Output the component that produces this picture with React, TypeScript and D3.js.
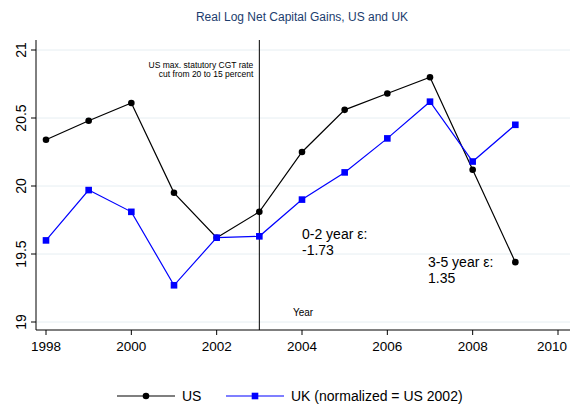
import React from 'react';
import * as d3 from 'd3';

const years = [1998, 1999, 2000, 2001, 2002, 2003, 2004, 2005, 2006, 2007, 2008, 2009];
const usValues = [20.34, 20.48, 20.61, 19.95, 19.62, 19.81, 20.25, 20.56, 20.68, 20.80, 20.12, 19.44];
const ukValues = [19.60, 19.97, 19.81, 19.27, 19.62, 19.63, 19.90, 20.10, 20.35, 20.62, 20.18, 20.45];
const xTicks = [1998, 2000, 2002, 2004, 2006, 2008, 2010];
const yTicks = [19, 19.5, 20, 20.5, 21];

const App: React.FC = () => {
  const width = 574;
  const height = 406;
  const left = 36, right = 570, top = 40, bottom = 330;

  const x = d3.scaleLinear().domain([1998, 2010]).range([46, 558]);
  const y = d3.scaleLinear().domain([19, 21]).range([322, 50]);

  const line = d3.line<number>().x((_, i) => x(years[i])).y(d => y(d));
  const font = 'Liberation Sans, Arial, sans-serif';

  return (
    <svg width={width} height={height} style={{ position: 'absolute', left: 0, top: 0, background: '#fff' }} fontFamily={font}>
      <text x={width / 2 + 15} y={21} textAnchor="middle" fontSize={12} fill="#1c3d6e">Real Log Net Capital Gains, US and UK</text>
      {yTicks.map(t => (
        <g key={t}>
          <line x1={left} x2={right} y1={y(t)} y2={y(t)} stroke="#e6eef2" />
          <line x1={left - 5} x2={left} y1={y(t)} y2={y(t)} stroke="#000" />
          <text transform={`translate(${left - 10},${y(t)}) rotate(-90)`} textAnchor="middle" fontSize={14}>{t}</text>
        </g>
      ))}
      <line x1={left} x2={left} y1={top} y2={bottom} stroke="#000" />
      <line x1={left} x2={right} y1={bottom} y2={bottom} stroke="#000" />
      {xTicks.map(t => (
        <g key={t}>
          <line x1={x(t)} x2={x(t)} y1={bottom} y2={bottom + 5} stroke="#000" />
          <text x={Math.min(x(t), 552)} y={bottom + 21} textAnchor="middle" fontSize={13.5}>{t}</text>
        </g>
      ))}
      <text x={(left + right) / 2} y={316} textAnchor="middle" fontSize={10}>Year</text>
      <line x1={x(2003)} x2={x(2003)} y1={top} y2={bottom} stroke="#000" />
      <text x={x(2003) - 6} y={68} textAnchor="end" fontSize={8.5}>US max. statutory CGT rate</text>
      <text x={x(2003) - 6} y={77} textAnchor="end" fontSize={8.5}>cut from 20 to 15 percent</text>
      <path d={line(usValues) || ''} fill="none" stroke="#000" strokeWidth={1.2} />
      {usValues.map((v, i) => <circle key={i} cx={x(years[i])} cy={y(v)} r={3.3} fill="#000" />)}
      <path d={line(ukValues) || ''} fill="none" stroke="#0000ff" strokeWidth={1.2} />
      {ukValues.map((v, i) => <rect key={i} x={x(years[i]) - 3.3} y={y(v) - 3.3} width={6.6} height={6.6} fill="#0000ff" />)}
      <text x={302} y={239} fontSize={14}>0-2 year ε:</text>
      <text x={302} y={255} fontSize={14}>-1.73</text>
      <text x={428} y={267} fontSize={14}>3-5 year ε:</text>
      <text x={428} y={283} fontSize={14}>1.35</text>
      <line x1={117} x2={175} y1={396} y2={396} stroke="#000" strokeWidth={1.2} />
      <circle cx={146} cy={396} r={3.3} fill="#000" />
      <text x={182} y={401} fontSize={14}>US</text>
      <line x1={226} x2={284} y1={396} y2={396} stroke="#0000ff" strokeWidth={1.2} />
      <rect x={251.7} y={392.7} width={6.6} height={6.6} fill="#0000ff" />
      <text x={291} y={401} fontSize={14}>UK (normalized = US 2002)</text>
    </svg>
  );
};

export default App;
